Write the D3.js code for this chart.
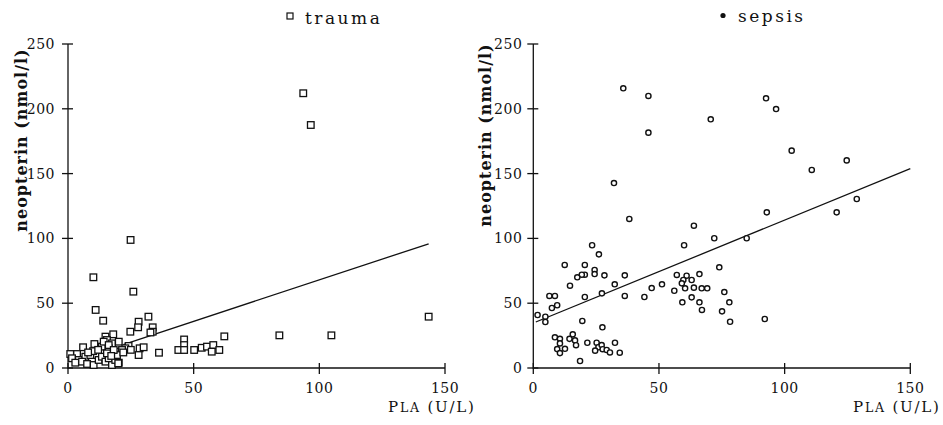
<!DOCTYPE html>
<html><head><meta charset="utf-8">
<script src="https://cdn.jsdelivr.net/npm/d3@7"></script>
<style>
html,body{margin:0;padding:0;background:#fff;}
svg{display:block;}
text{font-family:"DejaVu Serif",serif;fill:#111;}
</style></head>
<body>
<svg id="c" width="943" height="425"></svg>
<script>
// ---- data ----
const xTicks = [0, 50, 100, 150];
const yTicks = [0, 50, 100, 150, 200, 250];
const xLabel = ["P", "LA", " (U/L)"];
const yLabel = "neopterin (nmol/l)";
const traumaName = "trauma";
const sepsisName = "sepsis";

const traumaPLA = [93.6,96.6,24.9,10.1,26,11,14,32,143.5,84.1,104.8,62.2,46.2,46.2,43.9,46.2,50.2,53.2,55.3,57.8,57.2,60.2,36.2,28.1,27.9,24.8,33.7,33.7,32.8,18,14.9,15.5,17.5,20.2,10.5,6,24.1,22.8,21.5,28.5,30.1,28.1,0.9,3.6,1.6,4.3,6.9,8.9,2.9,5.6,7.6,10.2,11.5,12.2,13.5,14.9,16.2,17.5,18.8,20.2,13.5,16.2,18.8,19.5,14.2,16.2,18.2,15.5,17.2,20,10,8,12,22,25];
const traumaNeo = [212,187.5,98.8,70,58.9,44.8,36.5,39.6,39.6,25.2,25.2,24.4,22,17.7,13.9,13.9,13.9,15.6,16.5,17.7,12.6,13.9,11.8,35.7,31.4,28,31.4,28,27.4,26,24.2,21.6,19,20.3,18.5,16,17,15.2,13.9,15.2,16,10,10.8,10.8,7.5,6.2,8.7,10,4.1,4.9,3.1,2.3,10,6.2,8.7,4.9,7.5,2.3,6.2,4.1,16.5,15.2,12.6,10,20.3,17.7,13.9,11.3,9.3,3.6,13,12,14,12,14];

const sepsisPLA = [35.8,45.8,45.8,70.6,92.6,96.6,102.8,110.8,124.7,128.7,120.7,92.9,32.1,38.2,63.9,72.0,84.9,60.0,23.4,26.1,12.5,20.5,24.4,24.4,20.5,19.3,17.5,28.3,36.4,14.6,32.4,6.4,8.6,7.4,9.5,20.5,27.3,36.4,44.2,47.1,51.2,1.7,4.8,4.8,19.5,27.5,8.6,10.6,10.6,9.5,10.6,12.6,14.4,15.7,16.6,17,18.6,21.5,25.2,25.9,24.6,27.2,27.6,29.2,30.5,32.5,34.4,57.1,61,59.7,59.1,63,66.1,56.1,60.4,63.9,67,69.2,59.3,63,66.1,67.1,74,76,78,75.1,78.3,92.1];
const sepsisNeo = [215.8,209.9,181.6,191.9,208.1,199.8,167.7,152.8,160.2,130.4,120.1,120.1,142.7,115.0,109.8,100.1,100.1,94.7,94.7,87.7,79.5,79.5,75.6,72.5,72,72,70,71.5,71.5,63.5,64.6,55.6,55.6,46.3,48.4,54.8,57.6,55.6,54.8,61.7,64.6,40.9,39.6,35.5,36.3,31.4,23.7,22.5,19,14.6,11.5,14.8,22.5,26,21.3,17.6,5.4,19.5,19.5,16,13.4,17.7,14.5,13.9,12,19.5,11.8,71.8,71.2,67.9,65.3,67.9,72.5,59.6,61.5,62,61.5,61.5,50.7,54.5,50.7,44.8,77.7,58.6,50.7,43.7,35.7,37.8];

// regression lines: [intercept, slope], [xStart, xEnd]
const traumaFit = [4, 0.64];
const traumaFitRange = [22, 143.5];
const sepsisFit = [34.7, 0.794];
const sepsisFitRange = [1, 150];

// ---- drawing ----
const svg = d3.select("#c");

function panel(cfg) {
  const x = d3.scaleLinear().domain([0, 150]).range([cfg.x0, cfg.x0 + 377]);
  const y = d3.scaleLinear().domain([0, 250]).range([368, 44]);
  const g = svg.append("g");
  const sw = 1.3;
  // axes
  g.append("line").attr("x1", x(0)).attr("x2", x(150)).attr("y1", y(0)).attr("y2", y(0))
    .attr("stroke", "#111").attr("stroke-width", sw);
  g.append("line").attr("x1", x(0)).attr("x2", x(0)).attr("y1", y(0) + 1).attr("y2", y(250))
    .attr("stroke", "#111").attr("stroke-width", sw);
  g.selectAll(".xt").data(xTicks).join("line")
    .attr("x1", d => x(d)).attr("x2", d => x(d)).attr("y1", y(0) - 5).attr("y2", y(0) + 6)
    .attr("stroke", "#111").attr("stroke-width", sw);
  g.selectAll(".yt").data(yTicks).join("line")
    .attr("x1", x(0) - 6).attr("x2", x(0) + 5).attr("y1", d => y(d)).attr("y2", d => y(d))
    .attr("stroke", "#111").attr("stroke-width", sw);
  g.selectAll(".xl").data(xTicks).join("text")
    .attr("x", d => x(d)).attr("y", 393).attr("text-anchor", "middle")
    .attr("font-size", 14).attr("letter-spacing", 0.5).text(d => d);
  g.selectAll(".yl").data(yTicks).join("text")
    .attr("x", x(0) - cfg.yLabOff).attr("y", d => y(d) + 5).attr("text-anchor", "end")
    .attr("font-size", 14).attr("letter-spacing", 0.5).text(d => d);
  // axis titles
  const xt = g.append("text").attr("x", cfg.xTitleX).attr("y", 412)
    .attr("font-size", 15).attr("letter-spacing", 1.8);
  xt.append("tspan").text(xLabel[0]);
  xt.append("tspan").attr("font-size", 12.5).text(xLabel[1]);
  xt.append("tspan").text(xLabel[2]);
  g.append("text").attr("transform", `translate(${cfg.yTitleX},${cfg.yTitleY}) rotate(-90)`)
    .attr("text-anchor", "middle").attr("font-size", 16).attr("font-weight", "bold")
    .attr("letter-spacing", 1).text(yLabel);
  // regression line
  const fit = cfg.fit, fr = cfg.fitRange;
  g.append("line").attr("x1", x(fr[0])).attr("y1", y(fit[0] + fit[1] * fr[0]))
    .attr("x2", x(fr[1])).attr("y2", y(fit[0] + fit[1] * fr[1]))
    .attr("stroke", "#111").attr("stroke-width", 1.3);
  // points
  const pts = cfg.px.map((v, i) => [v, cfg.py[i]]);
  if (cfg.shape === "square") {
    g.selectAll(".p").data(pts).join("rect")
      .attr("x", d => x(d[0]) - 3.3).attr("y", d => y(d[1]) - 3.3)
      .attr("width", 6.6).attr("height", 6.6)
      .attr("fill", "#fff").attr("stroke", "#111").attr("stroke-width", 1.3);
  } else {
    g.selectAll(".p").data(pts).join("circle")
      .attr("cx", d => x(d[0])).attr("cy", d => y(d[1])).attr("r", 2.6)
      .attr("fill", "#fff").attr("stroke", "#111").attr("stroke-width", 1.4);
  }
  // legend
  if (cfg.shape === "square") {
    g.append("rect").attr("x", cfg.legX - 3).attr("y", 13).attr("width", 6).attr("height", 6)
      .attr("fill", "#fff").attr("stroke", "#111").attr("stroke-width", 1.2);
  } else {
    g.append("circle").attr("cx", cfg.legX).attr("cy", 15.5).attr("r", 2.6).attr("fill", "#111");
  }
  g.append("text").attr("x", cfg.legX + 15).attr("y", cfg.legY)
    .attr("font-size", 17).attr("letter-spacing", 2.5).text(cfg.name);
}

panel({x0: 68, yLabOff: 13, xTitleX: 388, yTitleX: 27, yTitleY: 140,
  fit: traumaFit, fitRange: traumaFitRange, px: traumaPLA, py: traumaNeo,
  shape: "square", legX: 290, legY: 23.5, name: traumaName});
panel({x0: 533.3, yLabOff: 11, xTitleX: 853, yTitleX: 491, yTitleY: 135,
  fit: sepsisFit, fitRange: sepsisFitRange, px: sepsisPLA, py: sepsisNeo,
  shape: "circle", legX: 723, legY: 22, name: sepsisName});
</script>
</body></html>
